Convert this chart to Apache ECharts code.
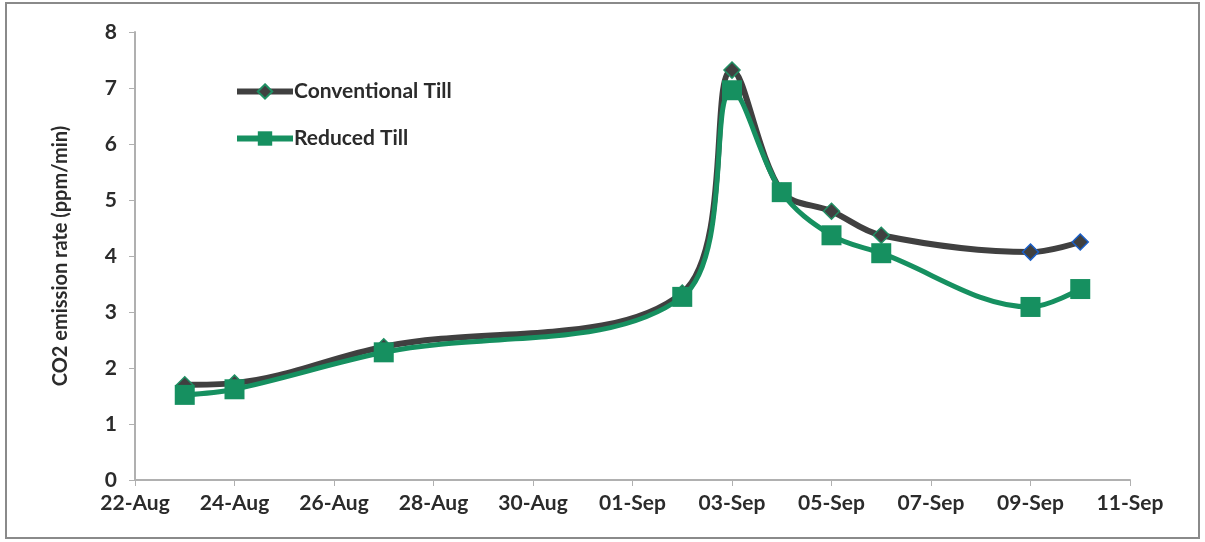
<!DOCTYPE html>
<html><head><meta charset="utf-8">
<script src="https://cdn.jsdelivr.net/npm/echarts@6/dist/echarts.min.js"></script>
<style>html,body{margin:0;padding:0;background:#fff}#c{width:1205px;height:542px}</style>
</head><body><div id="c"></div>
<script>
const dates = ['23-Aug','24-Aug','27-Aug','02-Sep','03-Sep','04-Sep','05-Sep','06-Sep','09-Sep','10-Sep'];
const conventional = [1.70,1.73,2.38,3.34,7.32,5.15,4.80,4.37,4.07,4.25];
const reduced = [1.52,1.62,2.28,3.27,6.96,5.14,4.37,4.05,3.09,3.41];
const xTickLabels = ['22-Aug','24-Aug','26-Aug','28-Aug','30-Aug','01-Sep','03-Sep','05-Sep','07-Sep','09-Sep','11-Sep'];
const yTicks = [0,1,2,3,4,5,6,7,8];

function dayOffset(s){ const [d,m]=s.split('-'); const n=parseInt(d,10); return m==='Aug'? n-22 : n+9; }
const convData = dates.map((d,i)=>({value:[dayOffset(d),conventional[i]], itemStyle:{borderColor: i>=8?'#1a5fc8':'#1f8f63'}}));
const redData = dates.map((d,i)=>[dayOffset(d),reduced[i]]);

const font = 'Lato, "Open Sans", sans-serif';
const chart = echarts.init(document.getElementById('c'));
chart.setOption({
  animation:false,
  backgroundColor:'#fff',
  graphic:[{type:'rect',shape:{x:6,y:3,width:1193,height:535},style:{fill:'none',stroke:'#8a8a8a',lineWidth:2}}],
  grid:{left:135,right:75,top:32,bottom:62},
  legend:{
    orient:'vertical', left:229, top:76, itemGap:26, itemWidth:56, itemHeight:18,
    lineStyle:{width:6},
    textStyle:{fontFamily:font,fontSize:21,fontWeight:'bold',color:'#2b2b2b',padding:[0,0,0,-4]},
    data:['Conventional Till','Reduced Till']
  },
  xAxis:{
    type:'value', min:0, max:20, interval:2,
    axisLine:{lineStyle:{color:'#b0b0b0',width:2}},
    axisTick:{show:true,inside:false,length:6,lineStyle:{color:'#b0b0b0'}},
    splitLine:{show:false},
    axisLabel:{formatter:v=>xTickLabels[v/2],fontFamily:font,fontSize:21,fontWeight:'bold',color:'#2b2b2b',margin:13}
  },
  yAxis:{
    type:'value', min:yTicks[0], max:yTicks[yTicks.length-1], interval:1,
    name:'CO2 emission rate (ppm/min)', nameLocation:'middle', nameGap:64,
    nameTextStyle:{fontFamily:font,fontSize:20,fontWeight:'bold',color:'#2b2b2b'},
    axisLine:{show:true,lineStyle:{color:'#b0b0b0',width:2}},
    axisTick:{show:true,length:6,lineStyle:{color:'#b0b0b0'}},
    splitLine:{show:false},
    axisLabel:{fontFamily:font,fontSize:21,fontWeight:'bold',color:'#2b2b2b',margin:18}
  },
  series:[
    {name:'Conventional Till',type:'line',smooth:0.35,data:convData,
     symbol:'diamond',symbolSize:16,
     lineStyle:{color:'#404040',width:6},
     itemStyle:{color:'#404040',borderColor:'#1f8f63',borderWidth:1.5},z:2},
    {name:'Reduced Till',type:'line',smooth:0.35,data:redData,
     symbol:'rect',symbolSize:20,
     lineStyle:{color:'#169060',width:5},
     itemStyle:{color:'#169060',borderWidth:0},z:3}
  ]
});
</script></body></html>
